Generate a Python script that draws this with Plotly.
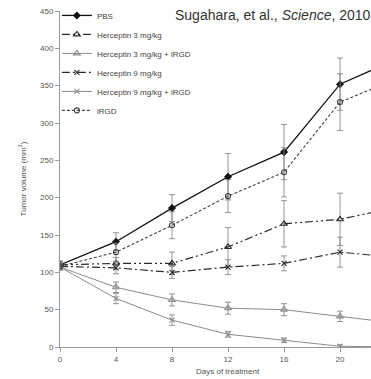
import plotly.graph_objects as go

days = [0, 4, 8, 12, 16, 20, 24]

series_names = ["PBS", "Herceptin 3 mg/kg", "Herceptin 3 mg/kg + iRGD",
                "Herceptin 9 mg/kg", "Herceptin 9 mg/kg + iRGD", "iRGD"]

pbs = [110, 141, 186, 228, 261, 352, 385]
pbs_err = [5, 12, 18, 31, 37, 35, 35]

h3 = [110, 112, 112, 134, 165, 171, 187]
h3_err = [5, 8, 15, 26, 31, 35, 35]

h3_irgd = [107, 80, 63, 52, 50, 41, 32]
h3_irgd_err = [4, 7, 8, 8, 8, 7, 7]

h9 = [108, 106, 100, 107, 112, 127, 120]
h9_err = [4, 8, 8, 10, 10, 20, 20]

h9_irgd = [107, 65, 36, 17, 9, 1, 0]
h9_irgd_err = [4, 7, 7, 4, 3, 2, 2]

irgd = [108, 127, 163, 202, 234, 328, 359]
irgd_err = [5, 12, 18, 22, 33, 38, 38]

x_ticks = [0, 4, 8, 12, 16, 20, 24]
y_ticks = [0, 50, 100, 150, 200, 250, 300, 350, 400, 450]

dark = "#2b2b2b"
light = "#8c8c8c"

styles = [
    dict(y=pbs, e=pbs_err, color="#111111", dash="solid", symbol="diamond", size=5, lw=1.3),
    dict(y=h3, e=h3_err, color=dark, dash="8px,3px,2px,3px,2px,3px", symbol="triangle-up-open", size=6, lw=1.2),
    dict(y=h3_irgd, e=h3_irgd_err, color=light, dash="solid", symbol="triangle-up-open", size=6, lw=1.0),
    dict(y=h9, e=h9_err, color=dark, dash="8px,3px,2px,3px", symbol="x-thin-open", size=5, lw=1.2),
    dict(y=h9_irgd, e=h9_irgd_err, color=light, dash="solid", symbol="x-thin-open", size=5, lw=1.0),
    dict(y=irgd, e=irgd_err, color="#444444", dash="3px,2px", symbol="circle-open", size=5, lw=1.1),
]

fig = go.Figure()
for i, (name, s) in enumerate(zip(series_names, styles)):
    fig.add_trace(go.Scatter(
        x=days, y=s["y"], name=name, mode="lines+markers",
        line=dict(color=s["color"], dash=s["dash"], width=s["lw"]),
        marker=dict(symbol=s["symbol"], size=s["size"], color=s["color"],
                    line=dict(color=s["color"], width=1.1)),
        error_y=dict(type="data", array=s["e"], color="#8a8a8a", thickness=0.9, width=3),
        cliponaxis=True,
    ))

fig.update_layout(
    width=371, height=379,
    margin=dict(l=60, r=0, t=11, b=32),
    paper_bgcolor="white", plot_bgcolor="white",
    font=dict(family="Liberation Sans, Arial, sans-serif", color="#555555", size=8),
    showlegend=True,
    legend=dict(x=-0.01, y=1.03, xanchor="left", yanchor="top",
                xref="paper", yref="paper",
                font=dict(size=8, color="#444444"),
                bgcolor="rgba(0,0,0,0)", tracegroupgap=0, itemwidth=30),
    xaxis=dict(range=[0, 22.21], tickvals=x_ticks, showgrid=False, zeroline=False,
               showline=True, linecolor="#999999", linewidth=1,
               ticks="outside", ticklen=4, tickcolor="#999999",
               tickfont=dict(size=8, color="#555555")),
    yaxis=dict(range=[0, 450], tickvals=y_ticks, showgrid=False, zeroline=False,
               showline=True, linecolor="#999999", linewidth=1,
               ticks="outside", ticklen=4, tickcolor="#999999",
               tickfont=dict(size=8, color="#555555"),
               title=dict(text="Tumor volume (mm<sup>3</sup>)", font=dict(size=8, color="#555555"),
                          standoff=12)),
    annotations=[
        dict(text="Sugahara, et al., <i>Science</i>, 2010", xref="paper", yref="paper",
             x=1.0, y=1.0, xanchor="right", yanchor="bottom", yshift=-14, xshift=2,
             showarrow=False,
             font=dict(size=14, color="#333333", family="Liberation Sans, Arial, sans-serif")),
        dict(text="Days of treatment", xref="x", yref="paper", x=12, y=0,
             xanchor="center", yanchor="top", yshift=-18, showarrow=False,
             font=dict(size=8, color="#555555")),
    ],
)

fig.write_html("out.html")
